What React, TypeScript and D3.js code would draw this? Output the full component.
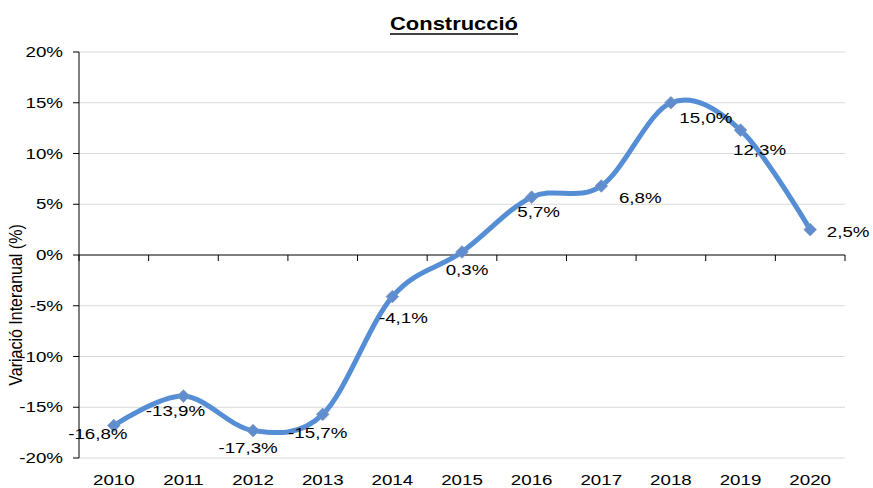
import React from "react";
import * as d3 from "d3";

const years = ["2010", "2011", "2012", "2013", "2014", "2015", "2016", "2017", "2018", "2019", "2020"];
const values = [-16.8, -13.9, -17.3, -15.7, -4.1, 0.3, 5.7, 6.8, 15.0, 12.3, 2.5];
const yTicks = [-20, -15, -10, -5, 0, 5, 10, 15, 20];
const labelOffsets: [number, number][] = [
  [-16, 13], [-8, 20], [-5, 22], [-5, 24], [11, 26], [5, 23],
  [7, 20], [39, 17], [35, 20], [19, 25], [38, 7],
];

const W = 873, H = 488;
const left = 79, right = 845, top = 52, bottom = 458;
const SX = 1.25;
const FONT = "Liberation Sans, Arial, sans-serif";

const fmt = (v: number) => v.toFixed(1).replace(".", ",") + "%";

function T({ x, y, anchor = "middle", size = 15, children, weight = "normal", sx = SX }: any) {
  return (
    <text
      transform={`translate(${x},${y}) scale(${sx},1)`}
      textAnchor={anchor}
      fontSize={size}
      fontWeight={weight}
      fontFamily={FONT}
      fill="#000"
    >
      {children}
    </text>
  );
}

export default function App() {
  const x = d3.scaleBand().domain(years).range([left, right]).padding(0);
  const y = d3.scaleLinear().domain([-20, 20]).range([bottom, top]);
  const cx = (i: number) => (x(years[i]) as number) + x.bandwidth() / 2;
  const pts: [number, number][] = values.map((v, i) => [cx(i), y(v)]);
  const line = d3.line().curve(d3.curveCardinal.tension(0))(pts) as string;
  const y0 = y(0);
  const boundaries = d3.range(years.length + 1).map((i) => left + i * x.bandwidth());
  const m = 6.3;

  return (
    <svg width={W} height={H} style={{ position: "absolute", left: 0, top: 0 }}>
      <rect width={W} height={H} fill="#fff" />
      {yTicks.filter((t) => t !== 0).map((t) => (
        <line key={"g" + t} x1={left} x2={right} y1={y(t)} y2={y(t)} stroke="#d9d9d9" strokeWidth={1} />
      ))}
      <line x1={left} x2={left} y1={top} y2={bottom} stroke="#000" strokeWidth={1} />
      {yTicks.map((t) => (
        <g key={"t" + t}>
          <line x1={left - 6} x2={left} y1={y(t)} y2={y(t)} stroke="#000" />
          <T x={63} y={y(t) + 5} anchor="end">{t + "%"}</T>
        </g>
      ))}
      <line x1={left} x2={right} y1={y0} y2={y0} stroke="#000" strokeWidth={1} />
      {boundaries.map((b, i) => (
        <line key={"b" + i} x1={b} x2={b} y1={y0} y2={y0 + 6} stroke="#000" />
      ))}
      {years.map((yr, i) => (
        <T key={yr} x={cx(i)} y={485}>{yr}</T>
      ))}
      <path d={line} fill="none" stroke="#558ED5" strokeWidth={5} strokeLinejoin="round" />
      {pts.map(([px, py], i) => (
        <path
          key={"m" + i}
          d={`M${px},${py - m}L${px + m},${py}L${px},${py + m}L${px - m},${py}Z`}
          fill="#5F8DD0"
          stroke="#8096B8"
          strokeWidth={0.8}
        />
      ))}
      {pts.map(([px, py], i) => (
        <T key={"l" + i} x={px + labelOffsets[i][0]} y={py + labelOffsets[i][1]}>{fmt(values[i])}</T>
      ))}
      <T x={454} y={30} size={18} weight="bold" sx={1.22}>Construcció</T>
      <line x1={390} x2={518} y1={34} y2={34} stroke="#000" strokeWidth={1.6} />
      <text
        transform={`translate(22,305) rotate(-90) scale(1,1.2)`}
        textAnchor="middle"
        fontSize={16}
        fontFamily={FONT}
        fill="#000"
      >
        Variació Interanual (%)
      </text>
    </svg>
  );
}
